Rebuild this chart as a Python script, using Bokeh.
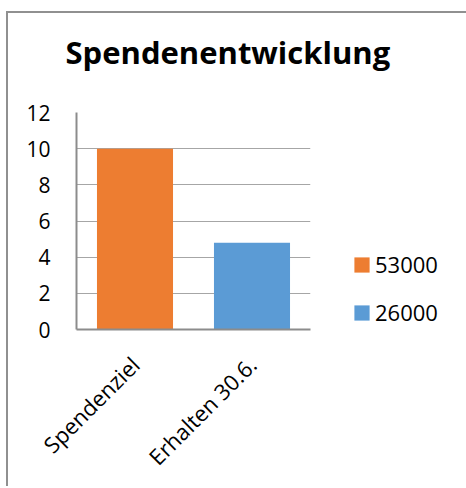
import math
from bokeh.plotting import figure
from bokeh.models import FactorRange, Legend, LegendItem, FixedTicker, ColumnDataSource
from bokeh.embed import file_html
from bokeh.resources import INLINE

title_text = "Spendenentwicklung"
categories = ["Spendenziel", "Erhalten 30.6."]
values = [10, 4.8]
legend_labels = ["53000", "26000"]
colors = ["#ED7D31", "#5B9BD5"]
y_ticks = [0, 2, 4, 6, 8, 10, 12]

FONT = "Open Sans"
FRAME_GRAY = "#909090"

p = figure(
    frame_width=234, frame_height=217,
    x_range=FactorRange(*categories, range_padding=0),
    y_range=(0, 12),
    output_backend="svg", toolbar_location=None,
    min_border_left=76, min_border_right=154,
    min_border_top=122, min_border_bottom=157,
    styles={
        "margin-top": "-10px",
        "background-image": f"linear-gradient({FRAME_GRAY},{FRAME_GRAY}), linear-gradient({FRAME_GRAY},{FRAME_GRAY})",
        "background-position": "6px 21px, 6px 21px",
        "background-size": "2px 100%, 100% 2px",
        "background-repeat": "no-repeat",
    },
)
p.border_fill_color = None
p.outline_line_color = None
p.background_fill_color = "white"

renderers = []
for i, cat in enumerate(categories):
    src = ColumnDataSource(dict(x=[cat], top=[values[i]]))
    r = p.vbar(x="x", top="top", width=0.65, source=src, fill_color=colors[i], line_color=None)
    renderers.append(r)

p.title.text = title_text
p.title.text_font = FONT
p.title.text_font_style = "bold"
p.title.text_font_size = "31px"
p.title.text_color = "black"
p.title.align = "left"
p.title.vertical_align = "top"
p.title.offset = -11
p.title.standoff = 76

yax = p.yaxis[0]
yax.ticker = FixedTicker(ticks=y_ticks)
yax.axis_line_color = "#8c8c8c"
yax.axis_line_width = 2
yax.major_tick_line_color = None
yax.minor_tick_line_color = None
yax.major_label_text_font = FONT
yax.major_label_text_font_size = "21px"
yax.major_label_text_color = "black"
yax.major_label_standoff = 20

xax = p.xaxis[0]
xax.axis_line_color = "#8c8c8c"
xax.axis_line_width = 2
xax.major_tick_line_color = None
xax.minor_tick_line_color = None
xax.major_label_text_font = FONT
xax.major_label_text_font_size = "22px"
xax.major_label_text_color = "black"
xax.major_label_orientation = math.pi / 4
xax.major_label_standoff = 25

p.xgrid.grid_line_color = None
p.ygrid.ticker = FixedTicker(ticks=y_ticks)
p.ygrid.grid_line_color = "#a6a6a6"
p.ygrid.grid_line_width = 1

legend = Legend(
    items=[LegendItem(label=legend_labels[i], renderers=[renderers[i]]) for i in range(len(categories))],
    location=(42, 2),
    glyph_width=19, glyph_height=19,
    label_text_font=FONT, label_text_font_size="22px", label_text_color="black",
    label_standoff=4, spacing=18, padding=0, margin=0,
    border_line_color=None, background_fill_alpha=0,
)
p.add_layout(legend, "right")

open("out.html", "w").write(file_html(p, INLINE))
